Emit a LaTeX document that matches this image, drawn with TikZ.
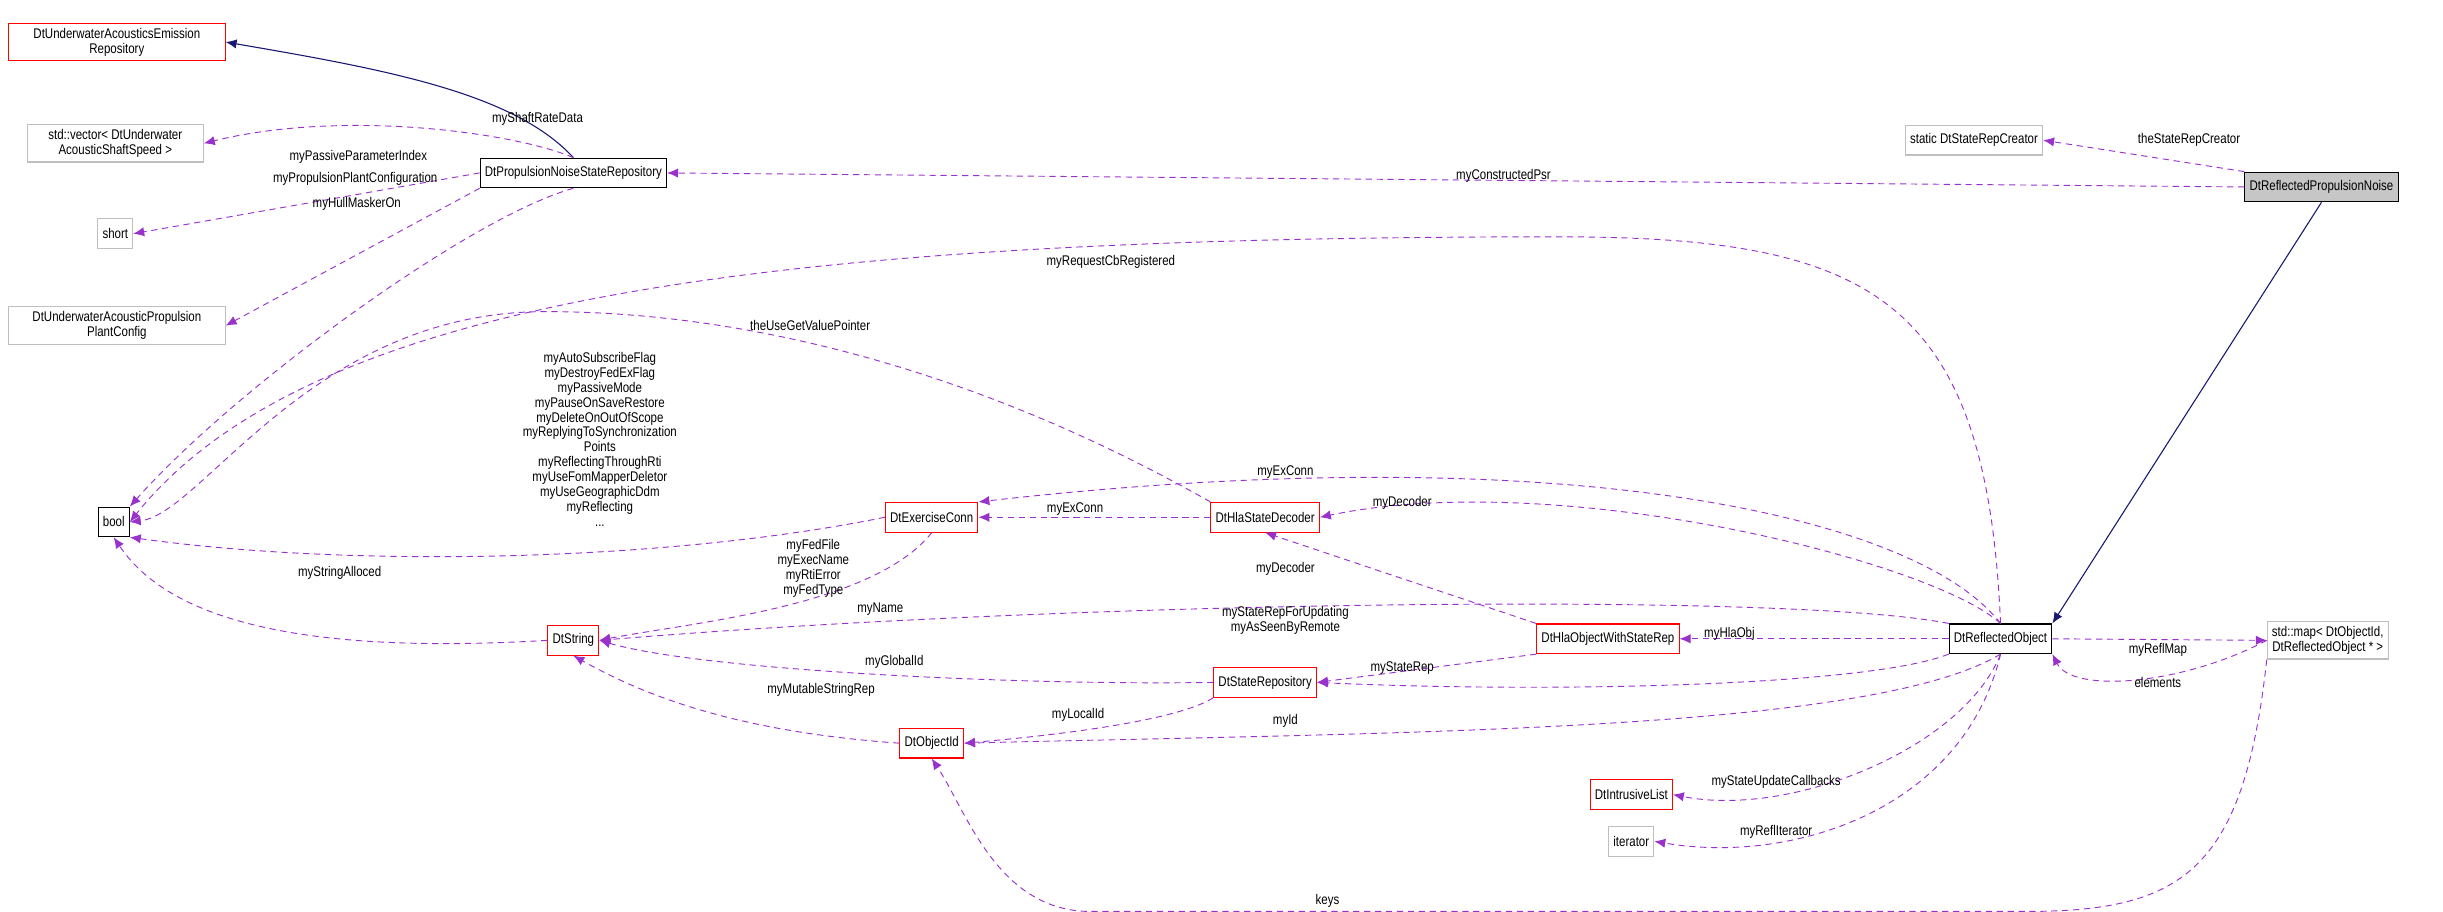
\documentclass[tikz,border=0pt]{standalone}
\usepackage{fontspec}
\setmainfont{Liberation Sans}[FakeStretch=0.82]
\usetikzlibrary{arrows.meta}
\definecolor{mem}{RGB}{153,50,204}
\definecolor{inh}{RGB}{25,25,112}
\begin{document}
\begin{tikzpicture}[x=1pt, y=-1pt,
    every node/.style={font=\fontsize{9}{9.6}\selectfont},
    box/.style={draw, line width=0.7pt, inner sep=3pt, minimum height=19pt, align=center},
    redbox/.style={box, draw=red},
    graybox/.style={box, draw=gray!50},
    blackbox/.style={box, draw=black},
    lbl/.style={align=center, inner sep=0pt},
    use/.style={draw=mem, dashed, dash pattern=on 4pt off 3pt, line width=0.6pt, -{Latex[length=7pt,width=6pt]}},
    isa/.style={draw=inh, line width=0.7pt, -{Latex[length=7pt,width=6pt]}}]
        \useasboundingbox (0,0) rectangle (1568,585);
        % classes
        \node[redbox, minimum width=139pt] (emis) at (75,27) {DtUnderwaterAcousticsEmission\\Repository};
        \node[graybox, minimum width=113pt] (vec) at (74,92) {std::vector< DtUnderwater\\AcousticShaftSpeed >};
        \node[graybox] (short) at (74,150) {short};
        \node[graybox, minimum width=139pt] (plant) at (75,209) {DtUnderwaterAcousticPropulsion\\PlantConfig};
        \node[blackbox] (bool) at (73,335) {bool};
        \node[blackbox] (pnsr) at (368,111) {DtPropulsionNoiseStateRepository};
        \node[graybox] (creator) at (1267,90) {static DtStateRepCreator};
        \node[blackbox, fill=gray!45] (rpn) at (1490,120) {DtReflectedPropulsionNoise};
        \node[blackbox] (robj) at (1284,410) {DtReflectedObject};
        \node[graybox] (map) at (1494,411) {std::map< DtObjectId,\\DtReflectedObject * >};
        \node[redbox] (hlaobj) at (1032,410) {DtHlaObjectWithStateRep};
        \node[redbox] (dec) at (812,332) {DtHlaStateDecoder};
        \node[redbox] (exconn) at (598,332) {DtExerciseConn};
        \node[redbox] (str) at (368,411) {DtString};
        \node[redbox] (srep) at (812,438) {DtStateRepository};
        \node[redbox] (oid) at (598,477) {DtObjectId};
        \node[redbox] (ilist) at (1047,510) {DtIntrusiveList};
        \node[graybox] (iter) at (1047,540) {iterator};
        % inheritance
        \draw[isa] (pnsr.north) .. controls (330,60) and (250,45) .. (emis.east);
        \draw[isa] (rpn.south) -- (robj.north east);
        % members
        \draw[use] (pnsr.north) .. controls (330,85) and (220,70) .. (vec.east);
        \draw[use] (pnsr.west) -- (short.east);
        \draw[use] (pnsr.south west) -- (plant.east);
        \draw[use] (pnsr.south) .. controls (300,140) and (150,250) .. (bool.north east);
        \draw[use] (rpn.west) -- (pnsr.east);
        \draw[use] (rpn.north west) -- (creator.east);
        \draw[use] (robj.north) .. controls (1275,190) and (1200,152) .. (1000,152) .. controls (500,152) and (200,190) .. (bool.east);
        \draw[use] (dec.north west) .. controls (650,250) and (500,200) .. (350,200) .. controls (200,200) and (130,330) .. (bool.east);
        \draw[use] (exconn.west) .. controls (430,360) and (230,365) .. (bool.south east);
        \draw[use] (str.west) .. controls (200,420) and (110,400) .. (bool.south);
        \draw[use] (exconn.south) .. controls (560,390) and (440,400) .. (str.east);
        \draw[use] (robj.north west) .. controls (1150,380) and (700,385) .. (str.east);
        \draw[use] (srep.west) .. controls (650,440) and (450,430) .. (str.east);
        \draw[use] (oid.west) .. controls (480,470) and (420,450) .. (str.south);
        \draw[use] (robj.north) .. controls (1230,330) and (1000,280) .. (exconn.north east);
        \draw[use] (dec.west) -- (exconn.east);
        \draw[use] (robj.north) .. controls (1240,360) and (1000,300) .. (dec.east);
        \draw[use] (hlaobj.north west) -- (dec.south);
        \draw[use] (robj.west) -- (hlaobj.east);
        \draw[use] (hlaobj.south west) -- (srep.east);
        \draw[use] (robj.south west) .. controls (1200,440) and (1000,445) .. (srep.east);
        \draw[use] (srep.south west) .. controls (760,460) and (700,470) .. (oid.east);
        \draw[use] (robj.south) .. controls (1200,470) and (900,470) .. (oid.east);
        \draw[use] (robj.south) .. controls (1260,480) and (1150,525) .. (ilist.east);
        \draw[use] (robj.south) .. controls (1260,520) and (1150,555) .. (iter.east);
        \draw[use] (robj.east) -- (map.west);
        \draw[use] (map.west) .. controls (1400,440) and (1330,445) .. (robj.south east);
        \draw[use] (map.south west) .. controls (1440,560) and (1400,585) .. (1300,585) -- (700,585) .. controls (640,585) and (620,520) .. (oid.south);
        % labels
        \node[lbl] (l1) at (345,76) {myShaftRateData};
        \node[lbl] (l2) at (230,101) {myPassiveParameterIndex};
        \node[lbl] (l3) at (228,115) {myPropulsionPlantConfiguration};
        \node[lbl] (l4) at (229,131) {myHullMaskerOn};
        \node[lbl] (l5) at (965,113) {myConstructedPsr};
        \node[lbl] (l6) at (1405,90) {theStateRepCreator};
        \node[lbl] (l7) at (713,168) {myRequestCbRegistered};
        \node[lbl] (l8) at (520,209) {theUseGetValuePointer};
        \node[lbl] (l9) at (385,282) {myAutoSubscribeFlag\\myDestroyFedExFlag\\myPassiveMode\\myPauseOnSaveRestore\\myDeleteOnOutOfScope\\myReplyingToSynchronization\\Points\\myReflectingThroughRti\\myUseFomMapperDeletor\\myUseGeographicDdm\\myReflecting\\...};
        \node[lbl] (l10) at (218,368) {myStringAlloced};
        \node[lbl] (l11) at (522,365) {myFedFile\\myExecName\\myRtiError\\myFedType};
        \node[lbl] (l12) at (565,391) {myName};
        \node[lbl] (l13) at (574,425) {myGlobalId};
        \node[lbl] (l14) at (527,443) {myMutableStringRep};
        \node[lbl] (l15) at (825,303) {myExConn};
        \node[lbl] (l16) at (690,327) {myExConn};
        \node[lbl] (l17) at (900,323) {myDecoder};
        \node[lbl] (l18) at (825,365) {myDecoder};
        \node[lbl] (l19) at (1110,407) {myHlaObj};
        \node[lbl] (l20) at (825,398) {myStateRepForUpdating\\myAsSeenByRemote};
        \node[lbl] (l21) at (900,429) {myStateRep};
        \node[lbl] (l22) at (692,459) {myLocalId};
        \node[lbl] (l23) at (825,463) {myId};
        \node[lbl] (l24) at (1140,502) {myStateUpdateCallbacks};
        \node[lbl] (l25) at (1140,534) {myReflIterator};
        \node[lbl] (l26) at (1385,417) {myReflMap};
        \node[lbl] (l27) at (1385,438) {elements};
        \node[lbl] (l28) at (852,578) {keys};
\end{tikzpicture}
\end{document}
